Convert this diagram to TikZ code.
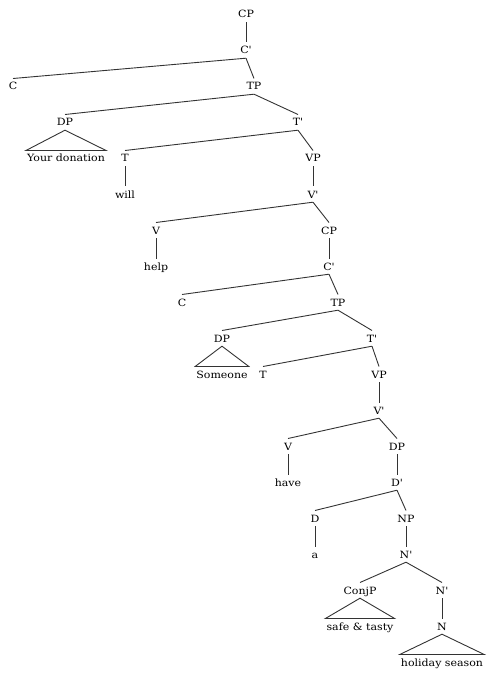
\documentclass[tikz,border=0pt]{standalone}
\usepackage{fontspec}
\setmainfont[FakeStretch=1.1,Ligatures=TeXOff]{DejaVu Serif}
\begin{document}
\begin{tikzpicture}[x=1pt,y=-1pt,
  lab/.style={font=\fontsize{10}{12}\selectfont, anchor=base, text height=7.3pt, text depth=0pt, inner ysep=4pt, inner xsep=0pt},
  leaf/.style={lab, inner xsep=1pt},
  br/.style={draw=black!80, line width=0.9pt},
  tri/.style={draw=black!80, line width=0.9pt, line join=miter}]
\useasboundingbox (0,0) rectangle (492,676);
% rows: baseline = 18 + 36 i
\node[lab] (cp1) at (246,18) {CP};
\node[lab] (cb1) at (246,54) {C'};
\node[lab] (c1) at (13,90) {C};
\node[lab] (tp1) at (254,90) {TP};
\node[lab] (dp1) at (65,126) {DP};
\node[lab] (tb1) at (298,126) {T'};
\node[leaf] (yd) at (66,162) {Your donation};
\node[lab] (t1) at (125,162) {T};
\node[lab] (vp1) at (313,162) {VP};
\node[lab] (will) at (125,198) {will};
\node[lab] (vb1) at (313,198) {V'};
\node[lab] (v1) at (156,234) {V};
\node[lab] (cp2) at (329,234) {CP};
\node[lab] (help) at (156,270) {help};
\node[lab] (cb2) at (329,270) {C'};
\node[lab] (c2) at (182,306) {C};
\node[lab] (tp2) at (338,306) {TP};
\node[lab] (dp2) at (222,342) {DP};
\node[lab] (tb2) at (372,342) {T'};
\node[leaf] (some) at (222,378) {Someone};
\node[lab] (t2) at (263,378) {T};
\node[lab] (vp2) at (379,378) {VP};
\node[lab] (vb2) at (379,414) {V'};
\node[lab] (v2) at (288,450) {V};
\node[lab] (dp3) at (397,450) {DP};
\node[lab] (have) at (288,486) {have};
\node[lab] (db) at (397,486) {D'};
\node[lab] (d) at (315,522) {D};
\node[lab] (np) at (406,522) {NP};
\node[lab] (a) at (315,558) {a};
\node[lab] (nb1) at (406,558) {N'};
\node[lab] (conj) at (360,594) {ConjP};
\node[lab] (nb2) at (442,594) {N'};
\node[leaf] (st) at (360,630) {safe \& tasty};
\node[lab] (n) at (442,630) {N};
\node[leaf] (hs) at (442,666) {holiday season};
% branches
\foreach \p/\c in {cp1/cb1, cb1/c1, cb1/tp1, tp1/dp1, tp1/tb1, tb1/t1, tb1/vp1,
  t1/will, vp1/vb1, vb1/v1, vb1/cp2, v1/help, cp2/cb2, cb2/c2, cb2/tp2,
  tp2/dp2, tp2/tb2, tb2/t2, tb2/vp2, vp2/vb2, vb2/v2, vb2/dp3, v2/have,
  dp3/db, db/d, db/np, d/a, np/nb1, nb1/conj, nb1/nb2, nb2/n}
  \draw[br] (\p.south) -- (\c.north);
% triangles
\foreach \p/\c in {dp1/yd, dp2/some, conj/st, n/hs}
  \draw[tri] (\p.south) -- (\c.north west) -- (\c.north east) -- cycle;
\end{tikzpicture}
\end{document}
